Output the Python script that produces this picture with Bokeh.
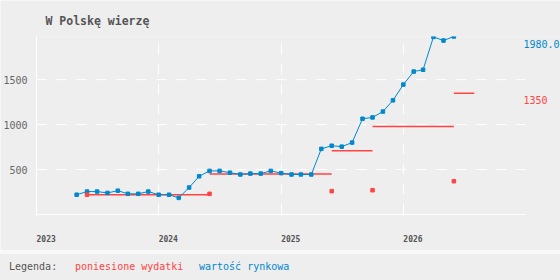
from itertools import accumulate
import pandas as pd
from bokeh.plotting import figure
from bokeh.models import Range1d, FixedTicker, DatetimeTickFormatter, Label, ColumnDataSource, Div
from bokeh.layouts import column
from bokeh.embed import file_html
from bokeh.resources import INLINE

MONO = "DejaVu Sans Mono"
BLUE = "#0088cc"
RED = "#ff4444"
GREY = "#555555"
BG = "#eeeeee"

# ---- data ----
title_text = "W Polskę wierzę"
legend_title = "Legenda:"
series_names = ["poniesione wydatki", "wartość rynkowa"]

market_start = "2023-05-01"   # monthly values from this month
market_value = [220, 255, 255, 240, 265, 230, 230, 255,
                220, 220, 185, 300, 425, 485, 485, 465, 445, 455, 455, 485,
                460, 445, 445, 445, 730, 765, 755, 800, 1065, 1080, 1145, 1270,
                1445, 1590, 1610, 1975, 1935, 1980]

expense_dates = ["2023-06-01", "2024-06-01", "2025-06-01", "2025-10-01", "2026-06-01"]
expense_amounts = [220, 230, 260, 270, 370]
expense_until = "2026-08-01"

year_ticks = ["2023-01-01", "2024-01-01", "2025-01-01", "2026-01-01"]
x_start, x_end = "2023-01-01", "2027-01-01"
y_ticks = [500, 1000, 1500]

# ---- layout numbers ----
W, H_PLOT, H_LEG, GAP = 560, 250, 26, 4
LEFT, TOP, BOTTOM = 36, 36, 36
AXIS_PX = 489          # pixel length of the x axis (x_start .. x_end)

def ms(s):
    return pd.Timestamp(s).value // 10**6

# frame runs to the right canvas edge so that the end labels are visible
x_lo = ms(x_start)
x_hi = x_lo + (ms(x_end) - x_lo) * (W - LEFT) / AXIS_PX

months = pd.date_range(market_start, periods=len(market_value), freq="MS")
exp_dt = pd.to_datetime(expense_dates)
cum = list(accumulate(expense_amounts))
seg_end = list(exp_dt[1:]) + [pd.Timestamp(expense_until)]

p = figure(width=W, height=H_PLOT, x_axis_type="datetime",
           x_range=Range1d(x_lo, x_hi),
           y_range=Range1d(0, max(market_value)),
           output_backend="svg", toolbar_location=None,
           min_border_left=LEFT, min_border_right=0, min_border_top=TOP, min_border_bottom=BOTTOM,
           background_fill_color=BG, border_fill_color=BG, outline_line_color=None)

p.title.text = title_text
p.title.align = "left"
p.title.offset = 9
p.title.standoff = 17
p.title.text_font = MONO
p.title.text_font_size = "11.5px"
p.title.text_font_style = "bold"
p.title.text_color = GREY

xt = FixedTicker(ticks=[ms(t) for t in year_ticks])
p.xaxis.ticker = xt
p.xaxis.bounds = (x_lo, ms(x_end))
nb = "\u00a0" * 4
p.xaxis.formatter = DatetimeTickFormatter(years=nb + "%Y", months=nb + "%Y", days=nb + "%Y")
p.xaxis.axis_line_color = "white"
p.xaxis.major_tick_line_color = "white"
p.xaxis.major_tick_in = 10
p.xaxis.major_tick_out = 2
p.xaxis.minor_tick_line_color = None
p.xaxis.major_label_text_font = MONO
p.xaxis.major_label_text_font_size = "8px"
p.xaxis.major_label_text_font_style = "bold"
p.xaxis.major_label_text_color = GREY
p.xaxis.major_label_standoff = 18

yt = FixedTicker(ticks=y_ticks)
p.yaxis.ticker = yt
p.yaxis.axis_line_color = "white"
p.yaxis.major_tick_line_color = None
p.yaxis.major_tick_in = 0
p.yaxis.major_tick_out = 0
p.yaxis.minor_tick_line_color = None
p.yaxis.major_label_text_font = MONO
p.yaxis.major_label_text_font_size = "10px"
p.yaxis.major_label_text_color = "#666666"
p.yaxis.major_label_standoff = 9

p.xgrid.ticker = xt
p.xgrid.grid_line_color = "white"
p.xgrid.grid_line_dash = "10 10"
p.ygrid.visible = False

# horizontal dashed guide lines limited to the axis span
p.segment(x0=[pd.Timestamp(x_start)] * len(y_ticks), x1=[pd.Timestamp(x_end)] * len(y_ticks),
          y0=y_ticks, y1=y_ticks, line_color="white", line_dash="10 10", line_width=1)

seg_src = ColumnDataSource(dict(x0=list(exp_dt), x1=seg_end, y=cum))
p.segment(x0="x0", x1="x1", y0="y", y1="y", source=seg_src, line_color=RED, line_width=1.5)

mv_src = ColumnDataSource(dict(x=months, y=market_value))
p.line("x", "y", source=mv_src, line_color=BLUE, line_width=1)
p.scatter("x", "y", source=mv_src, marker="square", size=3.5, fill_color=BLUE, line_color=BLUE)

ex_src = ColumnDataSource(dict(x=exp_dt, y=expense_amounts))
p.scatter("x", "y", source=ex_src, marker="square", size=3.5, fill_color=RED, line_color=RED)

p.add_layout(Label(x=pd.Timestamp(x_end), y=market_value[-1], x_offset=-2, y_offset=-7,
                   text=f"{market_value[-1]:.1f}", text_font=MONO, text_font_size="10px",
                   text_color=BLUE, text_baseline="middle", text_align="left"))
p.add_layout(Label(x=pd.Timestamp(x_end), y=cum[-1], x_offset=-2, y_offset=-7,
                   text=f"{cum[-1]}", text_font=MONO, text_font_size="10px",
                   text_color=RED, text_baseline="middle", text_align="left"))

span = "position:absolute;top:0;left:{}px;color:{}"
legend_html = (
    f'<div style="position:relative;width:{W}px;height:{H_LEG}px;line-height:{H_LEG}px;'
    f'font-family:\'{MONO}\';font-size:10px;white-space:pre">'
    f'<span style="{span.format(9, GREY)}">{legend_title}</span>'
    f'<span style="{span.format(75, RED)}">{series_names[0]}</span>'
    f'<span style="{span.format(199, BLUE)}">{series_names[1]}</span>'
    '</div>'
)
legend = Div(text=legend_html, width=W, height=H_LEG,
             styles={"background-color": BG, "margin": "0", "padding": "0"})

layout = column(p, legend, spacing=GAP, styles={"background-color": "#f8f8f8"})
open("out.html", "w").write(file_html(layout, INLINE))
